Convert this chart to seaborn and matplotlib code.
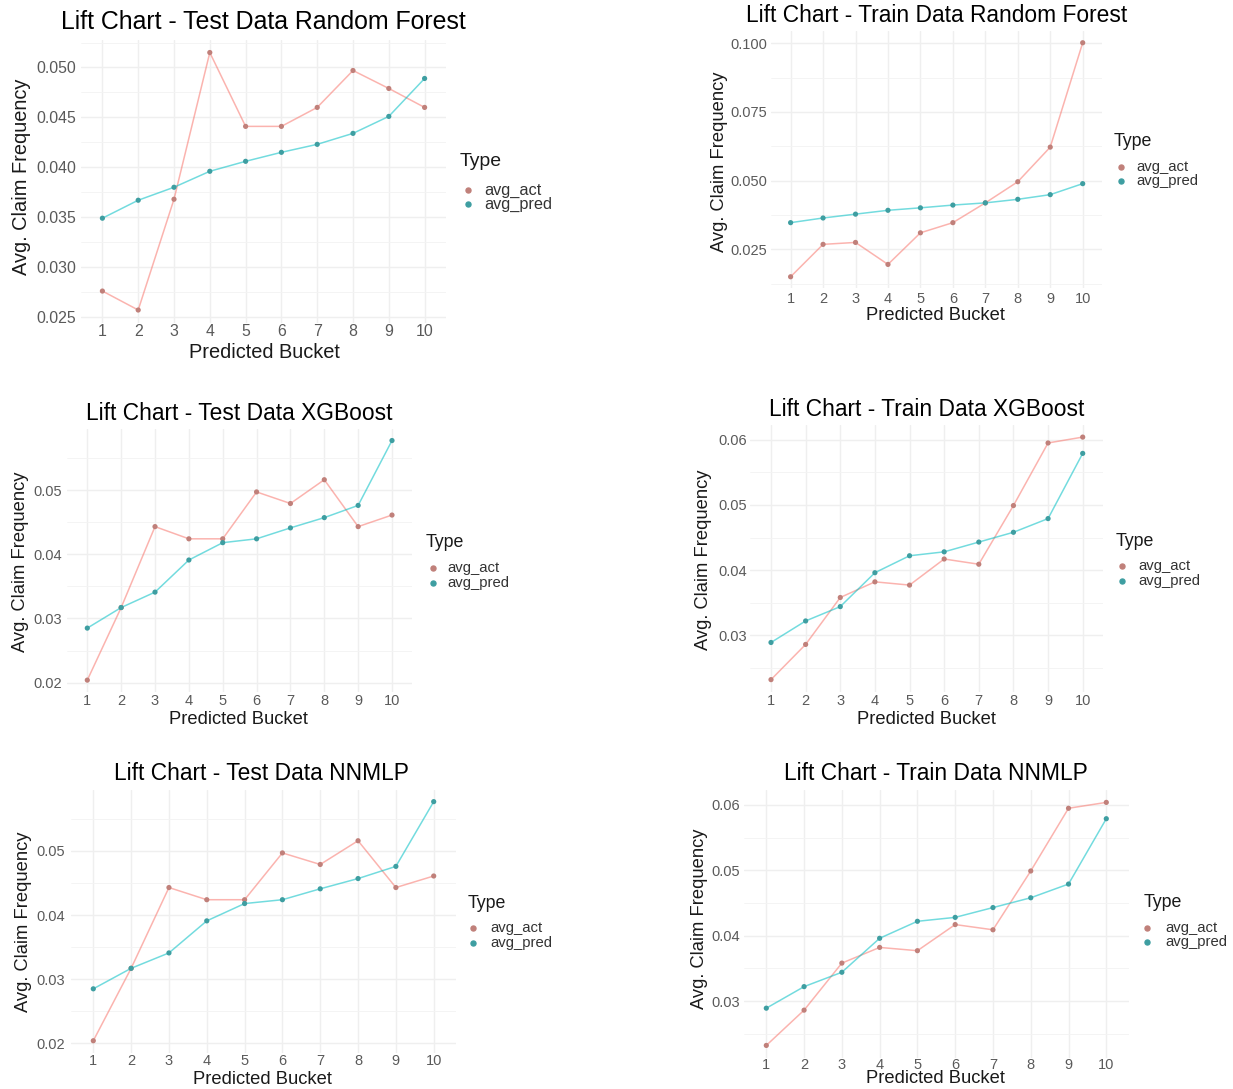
import numpy as np
import pandas as pd
import matplotlib
matplotlib.use("Agg")
import matplotlib.pyplot as plt
import seaborn as sns
from matplotlib.lines import Line2D

# ---- data: average claim frequency per predicted bucket ----
buckets = list(range(1, 11))
type_names = ["avg_act", "avg_pred"]

rf_test_act = [0.0276, 0.0257, 0.0368, 0.0515, 0.0441, 0.0441, 0.0460, 0.0497, 0.0479, 0.0460]
rf_test_pred = [0.0349, 0.0367, 0.0380, 0.0396, 0.0406, 0.0415, 0.0423, 0.0434, 0.0451, 0.0489]

rf_train_act = [0.0150, 0.0268, 0.0275, 0.0195, 0.0310, 0.0347, 0.0419, 0.0496, 0.0622, 0.1002]
rf_train_pred = [0.0347, 0.0364, 0.0378, 0.0392, 0.0401, 0.0411, 0.0419, 0.0432, 0.0449, 0.0489]

xgb_test_act = [0.0204, 0.0317, 0.0443, 0.0424, 0.0424, 0.0497, 0.0479, 0.0516, 0.0443, 0.0461]
xgb_test_pred = [0.0285, 0.0317, 0.0341, 0.0391, 0.0418, 0.0424, 0.0441, 0.0457, 0.0476, 0.0577]

xgb_train_act = [0.0232, 0.0286, 0.0358, 0.0382, 0.0377, 0.0417, 0.0409, 0.0499, 0.0595, 0.0604]
xgb_train_pred = [0.0289, 0.0322, 0.0344, 0.0396, 0.0422, 0.0428, 0.0443, 0.0458, 0.0479, 0.0579]

nn_test_act = [0.0204, 0.0317, 0.0443, 0.0424, 0.0424, 0.0497, 0.0479, 0.0516, 0.0443, 0.0461]
nn_test_pred = [0.0285, 0.0317, 0.0341, 0.0391, 0.0418, 0.0424, 0.0441, 0.0457, 0.0476, 0.0577]

nn_train_act = [0.0232, 0.0286, 0.0358, 0.0382, 0.0377, 0.0417, 0.0409, 0.0499, 0.0595, 0.0604]
nn_train_pred = [0.0289, 0.0322, 0.0344, 0.0396, 0.0422, 0.0428, 0.0443, 0.0458, 0.0479, 0.0579]

# ---- styling ----
sns.set_theme(style="white")
plt.rcParams["font.family"] = ["Liberation Sans", "DejaVu Sans"]

line_palette = {"avg_act": "#F8766D", "avg_pred": "#00BFC4"}
point_palette = {"avg_act": "#C0807A", "avg_pred": "#3E9EA1"}
grid_major = "#EFEFEF"
grid_minor = "#F3F3F3"
tick_color = "#5A5A5A"

W, H, DPI = 1233, 1089, 100
PT = 72.0 / DPI  # points per pixel
fig = plt.figure(figsize=(W / DPI, H / DPI), dpi=DPI)
fig.patch.set_facecolor("white")


def fx(px):
    return px / W


def fy(py):
    return 1.0 - py / H


panels = [
    dict(title="Lift Chart - Test Data Random Forest", act=rf_test_act, pred=rf_test_pred,
         yticks=[0.025, 0.030, 0.035, 0.040, 0.045, 0.050], yfmt="{:.3f}", scale=1.09,
         x_ref=(102.4, 424.6), y_ref=((0.050, 67.5), (0.025, 317.0)),
         title_xy=(263.5, 21.7), ylab_xy=(22, 177), tick_right=76, xtick_y=333,
         xlab_xy=(264, 352.7), leg_title=(460, 161.7), leg_marker_x=468, leg_text_x=484,
         leg_rows=(190.0, 204.0)),
    dict(title="Lift Chart - Train Data Random Forest", act=rf_train_act, pred=rf_train_pred,
         yticks=[0.025, 0.050, 0.075, 0.100], yfmt="{:.3f}", scale=1.0,
         x_ref=(790.6, 1082.7), y_ref=((0.100, 43.3), (0.025, 249.3)),
         title_xy=(936.7, 15), ylab_xy=(719, 162), tick_right=767, xtick_y=300,
         xlab_xy=(935.7, 316), leg_title=(1114, 142), leg_marker_x=1121, leg_text_x=1136,
         leg_rows=(167.0, 181.0)),
    dict(title="Lift Chart - Test Data XGBoost", act=xgb_test_act, pred=xgb_test_pred,
         yticks=[0.02, 0.03, 0.04, 0.05], yfmt="{:.2f}", scale=1.0,
         x_ref=(87.3, 392.0), y_ref=((0.05, 490.0), (0.02, 682.7)),
         title_xy=(239.5, 413.3), ylab_xy=(21, 562), tick_right=62, xtick_y=701.7,
         xlab_xy=(238, 720), leg_title=(426, 542.7), leg_marker_x=432.5, leg_text_x=447.6,
         leg_rows=(568.3, 582.7)),
    dict(title="Lift Chart - Train Data XGBoost", act=xgb_train_act, pred=xgb_train_pred,
         yticks=[0.03, 0.04, 0.05, 0.06], yfmt="{:.2f}", scale=1.0,
         x_ref=(771.0, 1082.7), y_ref=((0.06, 439.7), (0.03, 635.3)),
         title_xy=(927, 410), ylab_xy=(703, 560), tick_right=747, xtick_y=701.7,
         xlab_xy=(926, 720), leg_title=(1116, 541), leg_marker_x=1122, leg_text_x=1138,
         leg_rows=(565.7, 581.0)),
    dict(title="Lift Chart - Test Data NNMLP", act=nn_test_act, pred=nn_test_pred,
         yticks=[0.02, 0.03, 0.04, 0.05], yfmt="{:.2f}", scale=1.0,
         x_ref=(93.3, 433.7), y_ref=((0.05, 851.0), (0.02, 1043.3)),
         title_xy=(261, 773.3), ylab_xy=(24, 922), tick_right=65, xtick_y=1061.7,
         xlab_xy=(262, 1080), leg_title=(468, 903.3), leg_marker_x=473, leg_text_x=490,
         leg_rows=(928.3, 943.3)),
    dict(title="Lift Chart - Train Data NNMLP", act=nn_train_act, pred=nn_train_pred,
         yticks=[0.03, 0.04, 0.05, 0.06], yfmt="{:.2f}", scale=1.0,
         x_ref=(766.3, 1106.3), y_ref=((0.06, 805.0), (0.03, 1001.0)),
         title_xy=(935.7, 773.3), ylab_xy=(699, 919), tick_right=740, xtick_y=1060.7,
         xlab_xy=(935.7, 1078.3), leg_title=(1143.5, 902.3), leg_marker_x=1147, leg_text_x=1165,
         leg_rows=(928.3, 942.3)),
]

XLIM = (0.4, 10.6)

for p in panels:
    s = p["scale"]
    f_title, f_axis, f_tick = 16.4 * s, 13.2 * s, 10.5 * s
    f_legtitle, f_legtext = 12.8 * s, 10.7 * s

    df = pd.DataFrame({
        "Predicted Bucket": buckets * 2,
        "value": p["act"] + p["pred"],
        "Type": [type_names[0]] * len(buckets) + [type_names[1]] * len(buckets),
    })

    lo, hi = min(df["value"]), max(df["value"])
    expand = 0.05 * (hi - lo)
    ylim = (lo - expand, hi + expand)

    # panel rectangle from the pixel positions of the axis breaks
    x1, x10 = p["x_ref"]
    xs = (x10 - x1) / 9.0
    left = x1 - (1 - XLIM[0]) * xs
    right = x10 + (XLIM[1] - 10) * xs
    (va, pa), (vb, pb) = p["y_ref"]
    ys = (pb - pa) / (va - vb)
    top = pa - (ylim[1] - va) * ys
    bottom = pa + (va - ylim[0]) * ys

    ax = fig.add_axes([fx(left), fy(bottom), (right - left) / W, (bottom - top) / H])
    ax.set_facecolor("white")

    sns.lineplot(data=df, x="Predicted Bucket", y="value", hue="Type",
                 palette=line_palette, linewidth=1.1, alpha=0.55,
                 legend=False, ax=ax, zorder=2)
    sns.scatterplot(data=df, x="Predicted Bucket", y="value", hue="Type",
                    palette=point_palette, s=14, linewidth=0,
                    legend=False, ax=ax, zorder=3)

    ax.set_xlim(*XLIM)
    ax.set_ylim(*ylim)
    ax.set_xticks(buckets)
    ax.set_xticklabels([str(b) for b in buckets])
    yt = p["yticks"]
    ax.set_yticks(yt)
    ax.set_yticklabels([p["yfmt"].format(v) for v in yt])
    step = yt[1] - yt[0]
    minors = [v + step / 2 for v in [yt[0] - step] + yt]
    ax.set_yticks([m for m in minors if ylim[0] <= m <= ylim[1]], minor=True)

    ax.grid(which="major", color=grid_major, linewidth=1.0)
    ax.grid(which="minor", axis="y", color=grid_minor, linewidth=0.6)
    ax.set_axisbelow(True)
    for sp in ax.spines.values():
        sp.set_visible(False)

    ax.set_xlabel("")
    ax.set_ylabel("")
    tick_px = f_tick / PT
    ax.tick_params(axis="y", which="both", length=0, labelsize=f_tick,
                   labelcolor=tick_color, pad=max(0.0, left - p["tick_right"]) * PT)
    ax.tick_params(axis="x", which="both", length=0, labelsize=f_tick,
                   labelcolor=tick_color,
                   pad=max(0.0, (p["xtick_y"] - bottom - 0.55 * tick_px)) * PT)

    # titles and axis labels
    tx, ty = p["title_xy"]
    fig.text(fx(tx), fy(ty), p["title"], ha="center", va="center",
             fontsize=f_title, color="black")
    lx, ly = p["ylab_xy"]
    fig.text(fx(lx), fy(ly), "Avg. Claim Frequency", ha="center", va="center",
             rotation=90, fontsize=f_axis, color="#1A1A1A")
    bx, by = p["xlab_xy"]
    fig.text(fx(bx), fy(by), "Predicted Bucket", ha="center", va="center",
             fontsize=f_axis, color="#1A1A1A")

    # legend: title plus one point key per series
    gx, gy = p["leg_title"]
    fig.text(fx(gx), fy(gy), "Type", ha="left", va="center",
             fontsize=f_legtitle, color="#1A1A1A")
    for name, row in zip(type_names, p["leg_rows"]):
        fig.add_artist(Line2D([fx(p["leg_marker_x"])], [fy(row)], marker="o",
                              markersize=3.6, linestyle="none",
                              color=point_palette[name], transform=fig.transFigure))
        fig.text(fx(p["leg_text_x"]), fy(row), name, ha="left", va="center",
                 fontsize=f_legtext, color="#333333")

fig.savefig("out.png", dpi=DPI, facecolor="white")
